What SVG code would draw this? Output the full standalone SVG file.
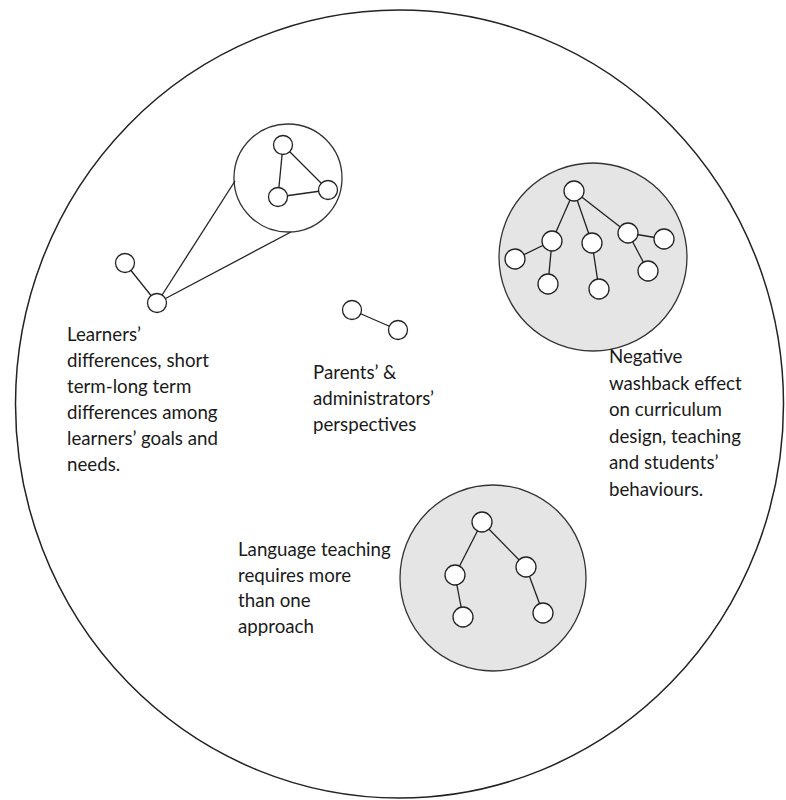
<svg xmlns="http://www.w3.org/2000/svg" width="786" height="800" viewBox="0 0 786 800">
  <style>
    .frame { fill: #ffffff; stroke: #222222; stroke-width: 1.5; }
    .cluster { fill: #e5e5e5; stroke: #333333; stroke-width: 1.3; }
    .lens { fill: none; stroke: #333333; stroke-width: 1.3; }
    .node { fill: #ffffff; stroke: #222222; stroke-width: 1.3; }
    .edge { stroke: #222222; stroke-width: 1.3; fill: none; }
    .label { font-family: Lato, "Liberation Sans", sans-serif; font-size: 18.7px; fill: #1a1a1a; }
  </style>
  <rect width="786" height="800" fill="#ffffff"/>
  <ellipse id="frame" class="frame" cx="399.5" cy="404" rx="384" ry="394"/>

  <!-- cluster backgrounds -->
  <circle id="cluster-washback" class="cluster" cx="593" cy="257" r="94"/>
  <circle id="cluster-approach" class="cluster" cx="493" cy="578" r="93"/>
  <circle id="lens-learners" class="lens" cx="288" cy="178" r="54"/>

  <g id="connectors">
    <!-- learners -->
    <line class="edge" x1="125" y1="263" x2="157" y2="303"/>
    <line class="edge" x1="157" y1="303" x2="235" y2="181"/>
    <line class="edge" x1="157" y1="303" x2="291" y2="232"/>
    <line class="edge" x1="283" y1="145" x2="278" y2="197"/>
    <line class="edge" x1="283" y1="145" x2="328" y2="190"/>
    <line class="edge" x1="278" y1="197" x2="328" y2="190"/>
    <!-- parents -->
    <line class="edge" x1="352" y1="310" x2="398" y2="330"/>
    <!-- washback tree -->
    <line class="edge" x1="574" y1="191" x2="552" y2="241"/>
    <line class="edge" x1="574" y1="191" x2="592" y2="243"/>
    <line class="edge" x1="574" y1="191" x2="628" y2="233"/>
    <line class="edge" x1="552" y1="241" x2="515" y2="259"/>
    <line class="edge" x1="552" y1="241" x2="548" y2="284"/>
    <line class="edge" x1="592" y1="243" x2="599" y2="289"/>
    <line class="edge" x1="628" y1="233" x2="664" y2="239"/>
    <line class="edge" x1="628" y1="233" x2="648" y2="271"/>
    <!-- approach tree -->
    <line class="edge" x1="482" y1="522" x2="455" y2="575"/>
    <line class="edge" x1="482" y1="522" x2="526" y2="567"/>
    <line class="edge" x1="455" y1="575" x2="463" y2="617"/>
    <line class="edge" x1="526" y1="567" x2="543" y2="613"/>
  </g>

  <g id="learners">
    <circle class="node" cx="125" cy="263" r="9.5"/>
    <circle class="node" cx="157" cy="303" r="9.5"/>
    <circle class="node" cx="283" cy="145" r="9.5"/>
    <circle class="node" cx="278" cy="197" r="9.5"/>
    <circle class="node" cx="328" cy="190" r="9.5"/>
    <text class="label">
      <tspan x="67" y="341">Learners’</tspan>
      <tspan x="67" y="367">differences, short</tspan>
      <tspan x="67" y="393">term-long term</tspan>
      <tspan x="67" y="419">differences among</tspan>
      <tspan x="67" y="445">learners’ goals and</tspan>
      <tspan x="67" y="471">needs.</tspan>
    </text>
  </g>

  <g id="parents">
    <circle class="node" cx="352" cy="310" r="9.5"/>
    <circle class="node" cx="398" cy="330" r="9.5"/>
    <text class="label">
      <tspan x="313" y="379">Parents’ &amp;</tspan>
      <tspan x="313" y="405">administrators’</tspan>
      <tspan x="313" y="431">perspectives</tspan>
    </text>
  </g>

  <g id="washback">
    <circle class="node" cx="574" cy="191" r="10"/>
    <circle class="node" cx="552" cy="241" r="10"/>
    <circle class="node" cx="515" cy="259" r="10"/>
    <circle class="node" cx="548" cy="284" r="10"/>
    <circle class="node" cx="592" cy="243" r="10"/>
    <circle class="node" cx="599" cy="289" r="10"/>
    <circle class="node" cx="628" cy="233" r="10"/>
    <circle class="node" cx="664" cy="239" r="10"/>
    <circle class="node" cx="648" cy="271" r="10"/>
    <text class="label">
      <tspan x="609" y="363">Negative</tspan>
      <tspan x="609" y="390">washback effect</tspan>
      <tspan x="609" y="416">on curriculum</tspan>
      <tspan x="609" y="443">design, teaching</tspan>
      <tspan x="609" y="469">and students’</tspan>
      <tspan x="609" y="496">behaviours.</tspan>
    </text>
  </g>

  <g id="approach">
    <circle class="node" cx="482" cy="522" r="10"/>
    <circle class="node" cx="455" cy="575" r="10"/>
    <circle class="node" cx="463" cy="617" r="10"/>
    <circle class="node" cx="526" cy="567" r="10"/>
    <circle class="node" cx="543" cy="613" r="10"/>
    <text class="label">
      <tspan x="238" y="556">Language teaching</tspan>
      <tspan x="238" y="582">requires more</tspan>
      <tspan x="238" y="607">than one</tspan>
      <tspan x="238" y="633">approach</tspan>
    </text>
  </g>
</svg>
